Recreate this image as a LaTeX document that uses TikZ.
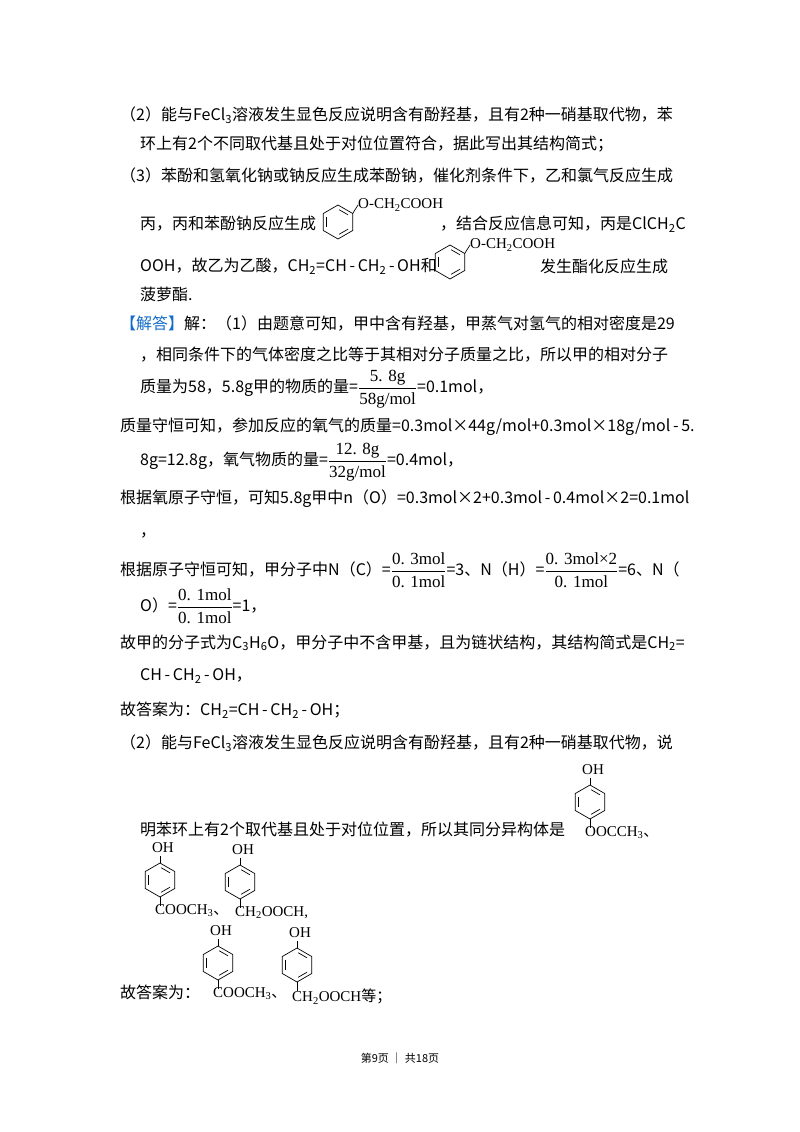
\documentclass[tikz,border=0pt]{standalone}
\usepackage{fontspec}
\usepackage{amsmath}
\usetikzlibrary{calc}
\setmainfont{Noto Sans CJK SC}
\newfontfamily\frf{Liberation Serif}
\newfontfamily\chf{Liberation Serif}
\newfontfamily\cjk{Noto Sans CJK SC}
\definecolor{jdblue}{RGB}{20,110,200}
\newcommand{\sbs}[1]{\textsubscript{#1}}
\newcommand{\mn}{\,-\,}
\newcommand{\myfr}[2]{$\dfrac{\hbox{\frf\fontsize{17}{17}\selectfont #1}}{\hbox{\frf\fontsize{17}{17}\selectfont #2}}$}
\begin{document}
\begin{tikzpicture}[x=1pt,y=-1pt,
  txt/.style={anchor=west,inner sep=0pt,font=\fontsize{16}{18}\selectfont},
  chem/.style={inner sep=0pt,font=\chf\fontsize{15}{16}\selectfont},
  bond/.style={line width=0.7pt}]
\useasboundingbox (0,0) rectangle (800,1132);
\fill[white] (0,0) rectangle (800,1132);
\tikzset{benz/.pic={
  \draw[bond] (90:17)--(30:17)--(-30:17)--(-90:17)--(-150:17)--(150:17)--cycle;
  \draw[bond] ($(90:17)!0.2!(30:17)+(-120:3.5)$) -- ($(90:17)!0.8!(30:17)+(-120:3.5)$);
  \draw[bond] ($(-30:17)!0.2!(-90:17)+(120:3.5)$) -- ($(-30:17)!0.8!(-90:17)+(120:3.5)$);
  \draw[bond] ($(-150:17)!0.2!(150:17)+(0:3.5)$) -- ($(-150:17)!0.8!(150:17)+(0:3.5)$);
}}
\node[txt] (l1) at (120,115) {（2）能与FeCl\sbs{3}溶液发生显色反应说明含有酚羟基，且有2种一硝基取代物，苯};
\node[txt] (l2) at (140,144) {环上有2个不同取代基且处于对位位置符合，据此写出其结构简式；};
\node[txt] (l3) at (120,176) {（3）苯酚和氢氧化钠或钠反应生成苯酚钠，催化剂条件下，乙和氯气反应生成};
\node[txt] (l4) at (140,224) {丙，丙和苯酚钠反应生成};
\pic at (338,222) {benz};
\draw[bond] (352.7,213.5) -- (358,205);
\node[chem,anchor=west] (s1) at (358,205) {O-CH\sbs{2}COOH};
\node[txt] (l4b) at (440,224) {，结合反应信息可知，丙是ClCH\sbs{2}C};
\node[txt] (l5) at (140,266) {OOH，故乙为乙酸，CH\sbs{2}=CH\mn CH\sbs{2}\mn OH和};
\pic at (450,262) {benz};
\draw[bond] (464.7,253.5) -- (470,245);
\node[chem,anchor=west] (s2) at (470,245) {O-CH\sbs{2}COOH};
\node[txt] (l5b) at (540,266) {发生酯化反应生成};
\node[txt] (l6) at (140,294) {菠萝酯.};
\node[txt] (l7) at (120,324) {{\color{jdblue}【解答】}解：（1）由题意可知，甲中含有羟基，甲蒸气对氢气的相对密度是29};
\node[txt] (l8) at (140,355) {，相同条件下的气体密度之比等于其相对分子质量之比，所以甲的相对分子};
\node[txt] (l9) at (140,389) {质量为58，5.8g甲的物质的量=\myfr{5. 8g}{58g/mol}=0.1mol，};
\node[txt] (l10) at (120,427) {质量守恒可知，参加反应的氧气的质量=0.3mol×44g/mol+0.3mol×18g/mol\mn 5.};
\node[txt] (l11) at (140,462) {8g=12.8g，氧气物质的量=\myfr{12. 8g}{32g/mol}=0.4mol，};
\node[txt] (l12) at (120,499) {根据氧原子守恒，可知5.8g甲中n（O）=0.3mol×2+0.3mol\mn 0.4mol×2=0.1mol};
\node[txt] (l13) at (140,535) {，};
\node[txt] (l14) at (120,570) {根据原子守恒可知，甲分子中N（C）=\myfr{0. 3mol}{0. 1mol}=3、N（H）=\myfr{0. 3mol×2}{0. 1mol}=6、N（};
\node[txt] (l15) at (140,606) {O）=\myfr{0. 1mol}{0. 1mol}=1，};
\node[txt] (l16) at (120,643) {故甲的分子式为C\sbs{3}H\sbs{6}O，甲分子中不含甲基，且为链状结构，其结构简式是CH\sbs{2}=};
\node[txt] (l17) at (140,676) {CH\mn CH\sbs{2}\mn OH，};
\node[txt] (l18) at (120,710) {故答案为：CH\sbs{2}=CH\mn CH\sbs{2}\mn OH；};
\node[txt] (l19) at (120,743) {（2）能与FeCl\sbs{3}溶液发生显色反应说明含有酚羟基，且有2种一硝基取代物，说};
\node[txt] (l20) at (140,830) {明苯环上有2个取代基且处于对位位置，所以其同分异构体是};
\newcommand{\para}[4]{%
  \pic at (#1,#2) {benz};
  \node[chem] (#4oh) at (#1+3,#2-32) {OH};
  \draw[bond] (#1,#2-17) -- (#1,#2-24);
  \node[chem,anchor=north west] (#4sub) at (#1-5,#2+24) {#3};
  \draw[bond] (#1,#2+17) -- (#1,#2+26);}
\para{590}{802}{OOCCH\sbs{3}{\cjk 、}}{a}
\para{160}{880}{COOCH\sbs{3}{\cjk 、}}{b}
\para{240}{882}{CH\sbs{2}OOCH,}{c}
\node[txt] (l21) at (120,992) {故答案为：};
\para{218}{963}{COOCH\sbs{3}{\cjk 、}}{d}
\para{297}{965}{CH\sbs{2}OOCH{\cjk 等；}}{e}
\node[inner sep=0pt,font=\fontsize{11}{12}\selectfont] (ft) at (400,1058) {第9页 ｜ 共18页};
\end{tikzpicture}
\end{document}
